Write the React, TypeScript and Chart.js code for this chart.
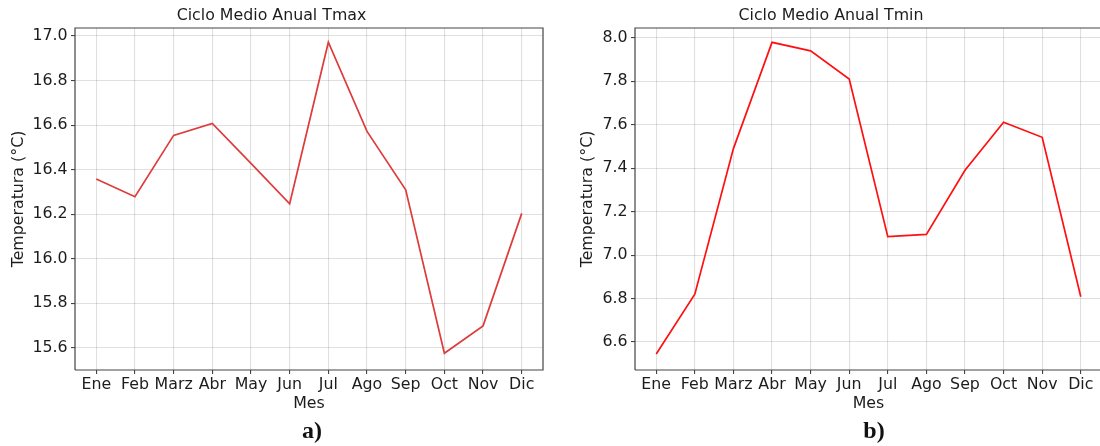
import React, { useEffect, useRef } from "react";
import { Chart, registerables } from "chart.js";

Chart.register(...registerables);

// Month labels shared by both panels
const months = ["Ene", "Feb", "Marz", "Abr", "May", "Jun", "Jul", "Ago", "Sep", "Oct", "Nov", "Dic"];

// Mean annual cycle of maximum temperature (°C)
const tmaxValues = [16.358, 16.279, 16.554, 16.608, 16.428, 16.247, 16.972, 16.572, 16.31, 15.576, 15.699, 16.204];
// Mean annual cycle of minimum temperature (°C)
const tminValues = [6.545, 6.82, 7.49, 7.979, 7.94, 7.81, 7.085, 7.095, 7.39, 7.611, 7.542, 6.808];

// Y tick labels
const tmaxTicks = [15.6, 15.8, 16.0, 16.2, 16.4, 16.6, 16.8, 17.0];
const tminTicks = [6.6, 6.8, 7.0, 7.2, 7.4, 7.6, 7.8, 8.0];

// Axis limits
const tmaxRange = [15.501, 17.036];
const tminRange = [6.471, 8.045];
const xRange = [-0.55, 11.55];

const FONT = "DejaVu Sans";
const TEXT = "#1c1c1c";
const FONT_SIZE = 15.8;

// Draws the four spines around the plotting area
const framePlugin = {
  id: "frame",
  afterDraw(chart: any, _args: any, opts: any) {
    const { ctx, chartArea } = chart;
    const { left, right, top, bottom } = chartArea;
    ctx.save();
    ctx.strokeStyle = "#444444";
    ctx.lineWidth = 1.2;
    ctx.beginPath();
    ctx.moveTo(left, bottom);
    ctx.lineTo(left, top);
    ctx.lineTo(right, top);
    if (opts.drawRight !== false) ctx.lineTo(right, bottom);
    else ctx.moveTo(right, bottom);
    ctx.lineTo(left, bottom);
    ctx.stroke();
    ctx.restore();
  },
};

type PanelProps = {
  title: string;
  values: number[];
  yTicks: number[];
  yRange: number[];
  color: string;
  yTitlePad: number;
  rightPad: number;
  left: number;
  drawRight: boolean;
};

function Panel({ title, values, yTicks, yRange, color, yTitlePad, rightPad, left, drawRight }: PanelProps) {
  const ref = useRef<HTMLCanvasElement>(null);
  useEffect(() => {
    if (!ref.current) return;
    const gridOpts = {
      color: "rgba(0,0,0,0.12)",
      lineWidth: 1.1,
      tickColor: "#444444",
      tickLength: 4,
      drawTicks: true,
    };
    const chart = new Chart(ref.current, {
      type: "line",
      data: {
        datasets: [
          {
            data: values.map((v, i) => ({ x: i, y: v })),
            borderColor: color,
            borderWidth: 1.7,
            pointRadius: 0,
            tension: 0,
            fill: false,
          },
        ],
      },
      options: {
        animation: false,
        responsive: false,
        devicePixelRatio: 1,
        layout: { padding: { left: 0, right: rightPad, top: 0, bottom: 0 } },
        plugins: {
          legend: { display: false },
          tooltip: { enabled: false },
          title: {
            display: true,
            text: title,
            color: TEXT,
            font: { family: FONT, size: FONT_SIZE, weight: "normal" },
            padding: { top: 6.0, bottom: 3.04 },
          },
          frame: { drawRight },
        },
        scales: {
          x: {
            type: "linear",
            min: xRange[0],
            max: xRange[1],
            afterBuildTicks: (scale: any) => {
              scale.ticks = months.map((_, i) => ({ value: i }));
            },
            afterFit: (scale: any) => {
              scale.height = 76;
            },
            ticks: {
              autoSkip: false,
              maxRotation: 0,
              minRotation: 0,
              padding: 1,
              color: TEXT,
              font: { family: FONT, size: FONT_SIZE },
              callback: (v: any) => months[Math.round(Number(v))],
            },
            grid: gridOpts,
            border: { display: false },
            title: {
              display: true,
              text: "Mes",
              color: TEXT,
              font: { family: FONT, size: FONT_SIZE },
              padding: { top: 0, bottom: 33 },
            },
          },
          y: {
            type: "linear",
            min: yRange[0],
            max: yRange[1],
            afterBuildTicks: (scale: any) => {
              scale.ticks = yTicks.map((v) => ({ value: v }));
            },
            afterFit: (scale: any) => {
              scale.width = 75;
            },
            ticks: {
              padding: 3.4,
              color: TEXT,
              font: { family: FONT, size: FONT_SIZE },
              callback: (v: any) => Number(v).toFixed(1),
            },
            grid: gridOpts,
            border: { display: false },
            title: {
              display: true,
              text: "Temperatura (°C)",
              color: TEXT,
              font: { family: FONT, size: FONT_SIZE },
              padding: { top: yTitlePad, bottom: 0 },
            },
          },
        },
      },
      plugins: [framePlugin],
    } as any);
    return () => chart.destroy();
  }, []);
  return (
    <canvas
      ref={ref}
      width={560}
      height={446}
      style={{ position: "absolute", left, top: 0, width: 560, height: 446 }}
    />
  );
}

const tagStyle: React.CSSProperties = {
  position: "absolute",
  top: 418,
  width: 100,
  textAlign: "center",
  fontFamily: "'Liberation Serif', serif",
  fontWeight: "bold",
  fontSize: 24,
  lineHeight: "24px",
  color: "#111",
};

export default function App() {
  return (
    <div
      style={{
        position: "fixed",
        left: 0,
        top: 0,
        width: 1100,
        height: 446,
        overflow: "hidden",
        background: "#ffffff",
      }}
    >
      <Panel
        title="Ciclo Medio Anual Tmax"
        values={tmaxValues}
        yTicks={tmaxTicks}
        yRange={tmaxRange}
        color="#de3b3b"
        yTitlePad={9.6}
        rightPad={17}
        left={0}
        drawRight={true}
      />
      <Panel
        title="Ciclo Medio Anual Tmin"
        values={tminValues}
        yTicks={tminTicks}
        yRange={tminRange}
        color="#ff1010"
        yTitlePad={18.4}
        rightPad={18}
        left={560}
        drawRight={false}
      />
      <div style={{ ...tagStyle, left: 312 - 50 }}>a)</div>
      <div style={{ ...tagStyle, left: 874 - 50 }}>b)</div>
    </div>
  );
}
